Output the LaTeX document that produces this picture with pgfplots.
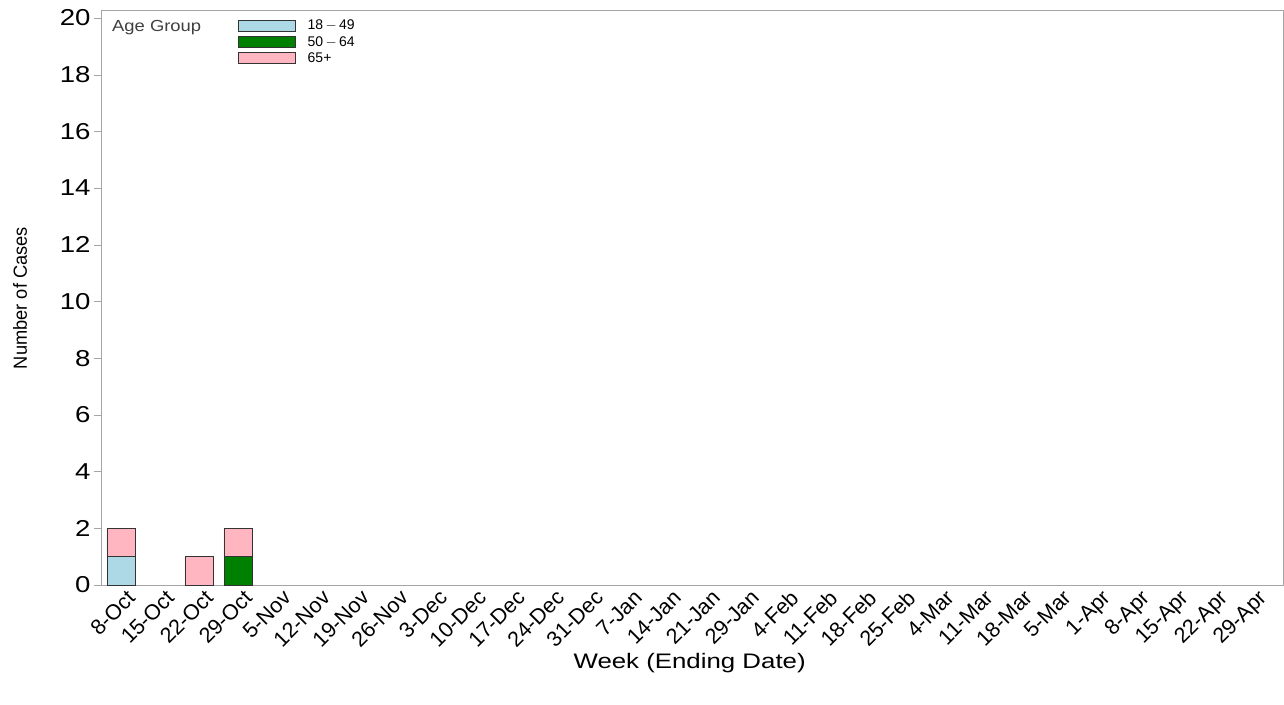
\documentclass[border=0pt]{standalone}
\usepackage{pgfplots}
\pgfplotsset{compat=1.18}
\usepackage{fontspec}
\setmainfont{Liberation Sans}
\definecolor{cBlue}{RGB}{173,216,230}
\definecolor{cGreen}{RGB}{0,128,0}
\definecolor{cPink}{RGB}{255,182,193}
\definecolor{cAxis}{RGB}{165,165,165}
\begin{document}
\begin{tikzpicture}[x=1pt,y=1pt]
\useasboundingbox (0,0) rectangle (1284,704);
\begin{axis}[
  at={(101pt,119pt)}, anchor=south west,
  width=1182pt, height=575pt, scale only axis,
  ybar stacked, bar width=28pt,
  xmin=-0.51, xmax=29.8,
  ymin=0, ymax=20.28,
  ytick={0,2,...,20},
  xtick={0,...,29},
  xticklabels={8-Oct,15-Oct,22-Oct,29-Oct,5-Nov,12-Nov,19-Nov,26-Nov,3-Dec,10-Dec,17-Dec,24-Dec,31-Dec,7-Jan,14-Jan,21-Jan,29-Jan,4-Feb,11-Feb,18-Feb,25-Feb,4-Mar,11-Mar,18-Mar,5-Mar,1-Apr,8-Apr,15-Apr,22-Apr,29-Apr},
  x tick label style={rotate=45, anchor=north east, font=\fontsize{21.5}{23}\selectfont, inner sep=1pt, xshift=7pt},
  y tick label style={font=\fontsize{23}{25}\selectfont},
  yticklabel={\scalebox{1.2}[1]{\pgfmathprintnumber{\tick}}},
  /pgf/number format/assume math mode=true,
  axis line style={cAxis},
  tick style={cAxis},
  tick align=outside,
  xtick style={draw=none},
  ytick pos=left,
  major tick length=7pt,
  xlabel={\scalebox{1.23}[1]{Week (Ending Date)}},
  ylabel={\scalebox{0.96}[1]{Number of Cases}},
  xlabel style={font=\fontsize{21}{23}\selectfont, at={(axis description cs:0.498,-0.1357)}, anchor=center},
  ylabel style={font=\fontsize{19}{21}\selectfont, at={(axis description cs:-0.0685,0.499)}, anchor=center, rotate=0},
  legend style={at={(axis description cs:0.116,0.9865)}, anchor=north west, draw=none, fill=none,
    font=\fontsize{14}{15}\selectfont, row sep=1pt, inner sep=0pt,
    /tikz/every odd column/.append style={column sep=10pt}},
  legend cell align=left,
  legend image code/.code={\draw[#1, draw=black!80] (0pt,-5.5pt) rectangle (57pt,5.5pt);},
]
\addplot[fill=cBlue, draw=black!80] coordinates {(0,1) (1,0) (2,0) (3,0)};
\addplot[fill=cGreen, draw=black!80] coordinates {(0,0) (1,0) (2,0) (3,1)};
\addplot[fill=cPink, draw=black!80] coordinates {(0,1) (1,0) (2,1) (3,1)};
\legend{18{\,}$-${\,}49,50{\,}$-${\,}64,65+}
\node[anchor=west, inner sep=0pt, font=\fontsize{16}{17}\selectfont, text=black!75] at (axis description cs:0.0093,0.970) {\scalebox{1.15}[1]{Age Group}};
\end{axis}
\end{tikzpicture}
\end{document}
